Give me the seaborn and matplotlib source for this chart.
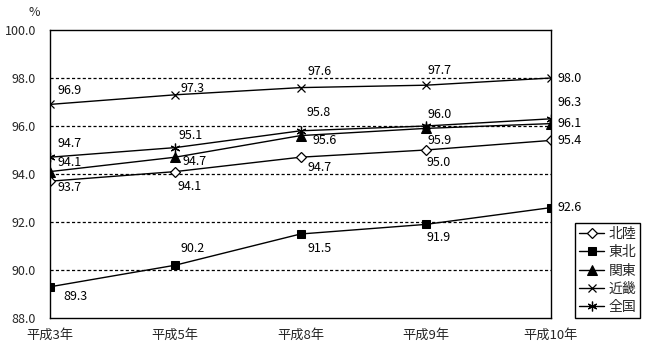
import matplotlib
matplotlib.use("Agg")
import matplotlib.pyplot as plt
import seaborn as sns
import pandas as pd

# Survey years and regional rates (%)
years = ["平成3年", "平成5年", "平成8年", "平成9年", "平成10年"]
hokuriku = [93.7, 94.1, 94.7, 95.0, 95.4]
tohoku = [89.3, 90.2, 91.5, 91.9, 92.6]
kanto = [94.1, 94.7, 95.6, 95.9, 96.1]
kinki = [96.9, 97.3, 97.6, 97.7, 98.0]
zenkoku = [94.7, 95.1, 95.8, 96.0, 96.3]
series_names = ["北陸", "東北", "関東", "近畿", "全国"]
y_ticks = [88.0, 90.0, 92.0, 94.0, 96.0, 98.0, 100.0]

series_values = [hokuriku, tohoku, kanto, kinki, zenkoku]

sns.set_theme(style="white")
plt.rcParams["font.family"] = ["Noto Sans CJK JP", "DejaVu Sans"]

# marker style for each region
marker_styles = {
    "北陸": dict(marker="D", markersize=5, markerfacecolor="white", markeredgecolor="black", markeredgewidth=0.9),
    "東北": dict(marker="s", markersize=6, markerfacecolor="black", markeredgecolor="black"),
    "関東": dict(marker="^", markersize=7, markerfacecolor="black", markeredgecolor="black"),
    "近畿": dict(marker="x", markersize=6, markeredgecolor="black", markeredgewidth=0.9),
    "全国": dict(marker=(6, 2, 0), markersize=7, markeredgecolor="black", markeredgewidth=0.9),
}

# label offsets (pixels) from each point, left edge of the text
label_offsets = {
    "北陸": [(8, -6), (2, -15), (7, -10), (1, -12), (6, 0)],
    "東北": [(13, -10), (5, 17), (7, -14), (1, -13), (6, 0)],
    "関東": [(7, 9), (7, -4), (12, -5), (2, -12), (6, 0)],
    "近畿": [(8, 14), (5, 6), (7, 16), (2, 15), (6, 0)],
    "全国": [(7, 14), (3, 12), (6, 18), (2, 12), (7, 16)],
}

frames = []
for name, vals in zip(series_names, series_values):
    frames.append(pd.DataFrame({"pos": range(len(years)), "value": vals, "region": name}))
df = pd.concat(frames, ignore_index=True)

fig = plt.figure(figsize=(6.5, 3.5), dpi=100)
ax = fig.add_axes([50 / 650, 32 / 350, 501 / 650, 288 / 350])

for name in series_names:
    sub = df[df["region"] == name]
    sns.lineplot(data=sub, x="pos", y="value", ax=ax, color="black", linewidth=1.0,
                 label=name, **marker_styles[name])
    for (px, py), (dx, dy) in zip(zip(sub["pos"], sub["value"]), label_offsets[name]):
        ax.annotate(f"{py:.1f}", (px, py), xytext=(dx, dy), textcoords="offset pixels",
                    ha="left", va="center", fontsize=9, color="black")

ax.set_xlim(0, len(years) - 1)
ax.set_ylim(y_ticks[0], y_ticks[-1])
ax.set_xticks(range(len(years)))
ax.set_xticklabels(years, fontsize=9.5)
ax.set_yticks(y_ticks)
ax.set_yticklabels([f"{v:.1f}" for v in y_ticks], fontsize=9)
ax.set_xlabel("")
ax.set_ylabel("")
ax.tick_params(axis="x", direction="in", length=3, width=1, color="black", pad=8)
ax.tick_params(axis="y", length=0, pad=10)

for v in y_ticks[1:-1]:
    ax.axhline(v, color="black", linewidth=0.9, linestyle=(0, (2.5, 1.8)), zorder=0)

for sp in ax.spines.values():
    sp.set_color("black")
    sp.set_linewidth(1.0)

fig.text(34 / 650, 1 - 12 / 350, "%", ha="center", va="center", fontsize=9)

leg = ax.legend(loc="lower left", bbox_to_anchor=(1.048, 0.0), borderaxespad=0,
                frameon=True, fancybox=False, edgecolor="black", fontsize=10,
                handlelength=1.8, handletextpad=0.3, labelspacing=0.3,
                borderpad=0.3, framealpha=1)
leg.get_frame().set_linewidth(1.0)

fig.savefig("out.png", dpi=100)
